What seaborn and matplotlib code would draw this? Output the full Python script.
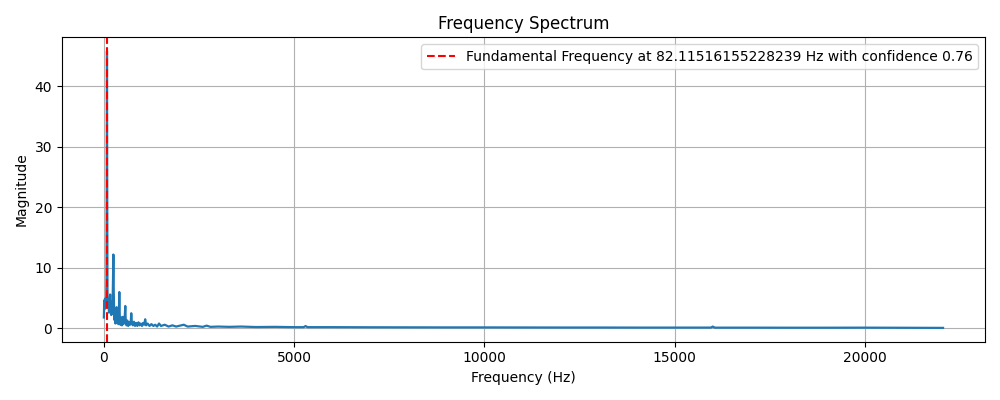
import numpy as np
import pandas as pd
import matplotlib
matplotlib.use("Agg")
import matplotlib.pyplot as plt
import seaborn as sns

# --- spectrum ---
freqs = [0, 10, 20, 30, 40, 50, 60, 70, 76, 82, 88, 95, 105, 120, 135, 150, 165, 180,
         195, 210, 225, 240, 250, 260, 275, 290, 305, 320, 335, 350, 365, 380, 395, 406,
         418, 435, 455, 475, 495, 515, 535, 550, 563, 575, 595, 615, 640, 665, 690, 710,
         720, 735, 760, 790, 820, 850, 880, 910, 940, 970, 1000, 1030, 1060, 1086, 1110,
         1150, 1200, 1250, 1300, 1350, 1400, 1450, 1500, 1600, 1700, 1800, 1900, 2000,
         2100, 2200, 2400, 2600, 2700, 2800, 3000, 3300, 3600, 4000,
         4500, 5000, 5250, 5300, 5350, 5600, 6000, 7000, 8000, 9000,
         10000, 11000, 12000, 13000, 14000, 15000, 15950, 16000, 16050, 17000,
         18000, 19000, 20000, 21000, 22050]
mags = [1.8, 4.6, 3.2, 4.9, 3.6, 4.4, 3.9, 8.0, 25.0, 45.8, 22.0, 6.0, 3.5, 4.8, 2.6, 4.2,
        5.6, 3.0, 2.2, 3.4, 2.5, 8.0, 12.2, 6.0, 1.4, 2.6, 0.8, 2.9, 3.5, 0.9, 2.2, 0.7,
        2.8, 6.0, 2.0, 0.6, 1.8, 0.5, 1.9, 0.7, 1.4, 2.1, 3.7, 1.2, 0.5, 1.3, 0.4, 1.0,
        0.6, 1.4, 2.5, 0.9, 0.5, 1.1, 0.4, 0.9, 0.4, 1.0, 0.5, 0.8, 0.4, 0.9, 0.6, 1.5,
        0.5, 0.8, 0.4, 0.7, 0.4, 0.6, 0.3, 0.8, 0.4, 0.6, 0.3, 0.5, 0.3, 0.45, 0.6, 0.3,
        0.4, 0.25, 0.45, 0.25, 0.3, 0.25, 0.3, 0.22,
        0.25, 0.2, 0.2, 0.38, 0.2, 0.2, 0.2, 0.18, 0.17, 0.16,
        0.16, 0.15, 0.14, 0.14, 0.13, 0.13, 0.13, 0.3, 0.12, 0.12,
        0.11, 0.11, 0.12, 0.1, 0.08]

fundamental = 82.11516155228239
confidence = 0.76

df = pd.DataFrame({'Frequency': freqs, 'Magnitude': mags})

plt.figure(figsize=(10, 4), dpi=100)
ax = sns.lineplot(data=df, x='Frequency', y='Magnitude', color='#1f77b4', linewidth=1.6)
ax.axvline(fundamental, color='r', linestyle='--',
           label=f'Fundamental Frequency at {fundamental} Hz with confidence {confidence:.2f}')
ax.set_title('Frequency Spectrum')
ax.set_xlabel('Frequency (Hz)')
ax.set_ylabel('Magnitude')
ax.legend(loc='upper right')
ax.grid(True)
plt.tight_layout()
plt.savefig('out.png', dpi=100)
